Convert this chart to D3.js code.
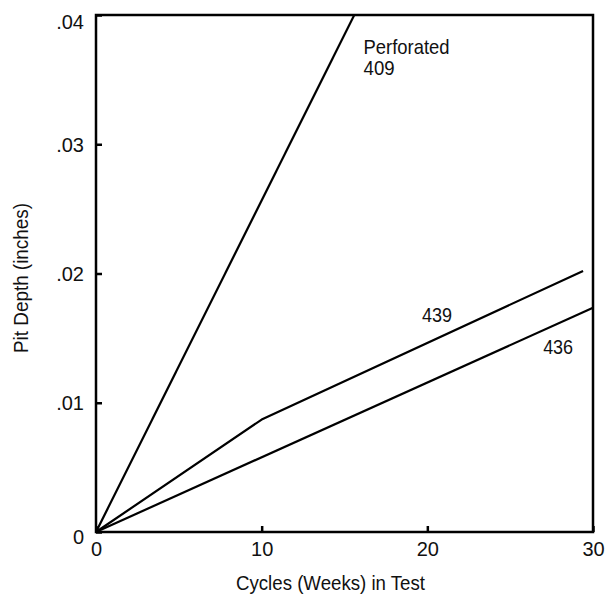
<!DOCTYPE html>
<html><head><meta charset="utf-8">
<script src="https://cdn.jsdelivr.net/npm/d3@7"></script>
<style>
html,body{margin:0;padding:0;background:#fff;}
svg text{font-family:"Liberation Sans Narrow","Arial Narrow","Liberation Sans",sans-serif;fill:#111;}
</style></head>
<body>
<svg id="chart" width="608" height="597"></svg>
<script>
const xTicks = [0, 10, 20, 30];
const yTicks = [0, 0.01, 0.02, 0.03, 0.04];
const yTickLabels = ["0", ".01", ".02", ".03", ".04"];
const seriesNames = ["Perforated 409", "439", "436"];
const s409 = [[0, 0], [15.59, 0.04]];
const s439 = [[0, 0], [10, 0.0087], [29.4, 0.0202]];
const s436 = [[0, 0], [30, 0.01735]];
const labels = [
  {lines: ["Perforated", "409"], x: 16.15, y: 0.0370, w: [86, 31]},
  {lines: ["439"], x: 19.68, y: 0.01625, w: [30]},
  {lines: ["436"], x: 26.99, y: 0.01378, w: [30]}
];

const svg = d3.select("#chart");
const L = 96, R = 593, T = 15, B = 532;
const x = d3.scaleLinear().domain([0, 30]).range([L, R]);
const y = d3.scaleLinear().domain([0, 0.04]).range([B, T]);

// lines
const line = d3.line().x(d => x(d[0])).y(d => y(d[1]));
[s409, s439, s436].forEach(s => {
  svg.append("path").attr("d", line(s)).attr("fill", "none")
    .attr("stroke", "#000").attr("stroke-width", 2.2).attr("stroke-linejoin", "round");
});

// frame
svg.append("rect").attr("x", L).attr("y", T).attr("width", R - L).attr("height", B - T)
  .attr("fill", "none").attr("stroke", "#000").attr("stroke-width", 2.5);

// x axis
const xa = svg.append("g").attr("transform", `translate(0,${B})`)
  .call(d3.axisBottom(x).tickValues(xTicks).tickFormat(d3.format("d")).tickSizeInner(-6).tickSizeOuter(0).tickPadding(10));
xa.select(".domain").remove();
xa.selectAll("line").attr("stroke", "#000").attr("stroke-width", 2.5);
xa.selectAll("text").attr("font-size", 20).attr("fill", "#111");

// y axis
const ya = svg.append("g").attr("transform", `translate(${L},0)`)
  .call(d3.axisLeft(y).tickValues(yTicks).tickFormat((d, i) => yTickLabels[i]).tickSizeInner(-6).tickSizeOuter(0).tickPadding(12));
ya.select(".domain").remove();
ya.selectAll("line").attr("stroke", "#000").attr("stroke-width", 2.5);
ya.selectAll("text").attr("font-size", 20).attr("fill", "#111")
  .attr("dy", d => d === 0 ? "0.55em" : (d === 0.04 ? "0.68em" : "0.36em"));

// labels
labels.forEach(l => {
  const t = svg.append("text").attr("x", x(l.x)).attr("y", y(l.y)).attr("font-size", 21);
  l.lines.forEach((s, i) => t.append("tspan").attr("x", x(l.x)).attr("dy", i === 0 ? 0 : "1.0em")
    .attr("textLength", l.w[i]).attr("lengthAdjust", "spacingAndGlyphs").text(s));
});

// axis titles
svg.append("text").attr("x", 236).attr("y", 590)
  .attr("font-size", 21).attr("textLength", 189).attr("lengthAdjust", "spacingAndGlyphs")
  .text("Cycles (Weeks) in Test");
svg.append("text").attr("transform", `translate(28,353) rotate(-90)`)
  .attr("font-size", 21).attr("textLength", 150).attr("lengthAdjust", "spacingAndGlyphs")
  .text("Pit Depth (inches)");
</script>
</body></html>
